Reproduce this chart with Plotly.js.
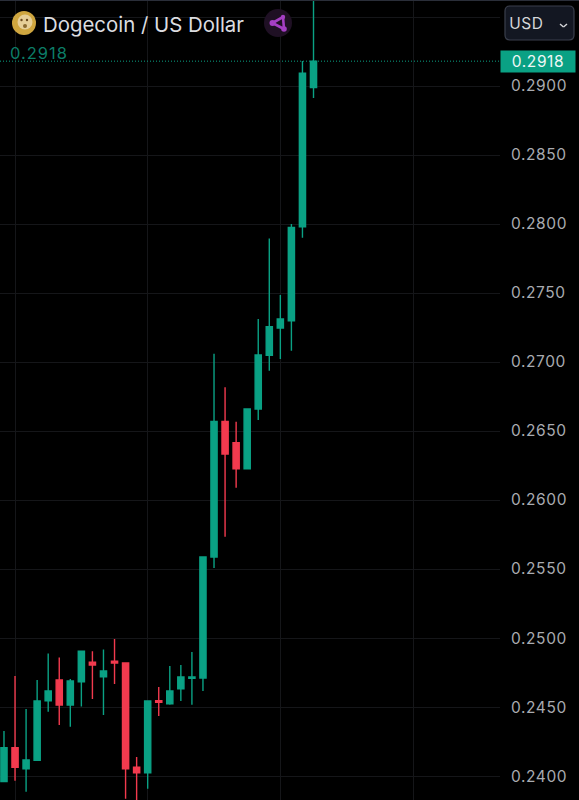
<!DOCTYPE html>
<html><head><meta charset="utf-8">
<script src="https://cdn.plot.ly/plotly-3.0.0.min.js"></script>
<style>html,body{margin:0;padding:0;background:#000}
.ytick text{letter-spacing:.6px}
.annotation[data-index="1"] text{letter-spacing:1px}
.annotation[data-index="2"] text{letter-spacing:.5px}
.annotation[data-index="3"] text{letter-spacing:.6px}
</style></head>
<body><div id="chart" style="width:579px;height:800px"></div>
<script>
const open_  = [.2396,.24205,.24053,.24114,.24546,.24696,.24515,.24684,.24826,.2472,.24833,.24819,.24065,.24024,.24546,.24524,.24633,.24708,.2471,.25587,.2657,.26415,.26227,.2666,.27049,.27246,.27299,.2798,.28988];
const high   = [.24326,.24725,.24486,.24696,.24889,.2486,.24703,.24904,.24904,.24918,.24993,.24819,.24138,.24544,.24645,.24797,.24804,.24899,.25587,.2706,.26817,.26568,.2666,.27312,.27896,.27486,.28,.29181,.299];
const low    = [.23955,.23966,.23886,.24114,.24466,.2437,.24357,.24505,.24558,.24442,.24667,.23836,.238,.23908,.24435,.24517,.24544,.24517,.24616,.25507,.25734,.26089,.26227,.2658,.26937,.27022,.27082,.27901,.28913];
const close_ = [.24205,.24063,.24116,.24544,.24616,.24515,.24689,.24904,.24804,.24761,.24819,.24053,.24024,.24544,.24534,.24616,.24718,.24718,.25587,.2657,.26333,.26227,.2666,.27051,.27256,.27312,.27976,.29092,.2918];
const index_ = open_.map((_, i) => i);
const priceTicks = [.24,.245,.25,.255,.26,.265,.27,.275,.28,.285,.29,.295];
const priceLabels = ['0.2400','0.2450','0.2500','0.2550','0.2600','0.2650','0.2700','0.2750','0.2800','0.2850','0.2900',''];
const timeTicks = [1,13,25,37];
const lastPrice = 0.2918;
const GREEN = '#0aa184', RED = '#f23a4e', FONT = 'Inter, Roboto, sans-serif';
const PW = 500, PH = 800;
const X = p => p / PW, Y = p => 1 - p / PH;
const pshape = o => Object.assign({xref:'paper', yref:'paper', layer:'above'}, o);
const circle = (cx, cy, r, fill) => pshape({type:'circle', x0:X(cx-r), x1:X(cx+r), y0:Y(cy+r), y1:Y(cy-r), fillcolor:fill, line:{width:0}});
const seg = (x0,y0,x1,y1,c,w) => pshape({type:'line', x0:X(x0), x1:X(x1), y0:Y(y0), y1:Y(y1), line:{color:c,width:w}});
const note = (text, px, py, size, color, anchor) => ({text, xref:'paper', yref:'paper', x:X(px), y:Y(py), xanchor:anchor||'left', yanchor:'middle', showarrow:false, font:{family:FONT,size,color}});
const box = (x0,y0,x1,y1,r) => `M${X(x0+r)},${Y(y0)} L${X(x1-r)},${Y(y0)} Q${X(x1)},${Y(y0)} ${X(x1)},${Y(y0+r)} L${X(x1)},${Y(y1-r)} Q${X(x1)},${Y(y1)} ${X(x1-r)},${Y(y1)} L${X(x0+r)},${Y(y1)} Q${X(x0)},${Y(y1)} ${X(x0)},${Y(y1-r)} L${X(x0)},${Y(y0+r)} Q${X(x0)},${Y(y0)} ${X(x0+r)},${Y(y0)} Z`;

const traces = [{
  type:'candlestick', x:index_, open:open_, high, low, close:close_,
  increasing:{line:{color:GREEN,width:1.4}, fillcolor:GREEN},
  decreasing:{line:{color:RED,width:1.4}, fillcolor:RED},
  whiskerwidth:0, hoverinfo:'skip'
}];
const layout = {
  width:579, height:800, autosize:false,
  margin:{l:0,r:79,t:0,b:0,pad:0},
  paper_bgcolor:'#000', plot_bgcolor:'#000', showlegend:false, boxgap:0.2,
  xaxis:{range:[-0.36,44.87], tickmode:'array', tickvals:timeTicks, showticklabels:false, ticks:'', showgrid:true, gridcolor:'#151619', gridwidth:1, zeroline:false, showline:false, rangeslider:{visible:false}, fixedrange:true},
  yaxis:{range:[.238267,.296232], side:'right', tickmode:'array', tickvals:priceTicks, ticktext:priceLabels, ticks:'', ticklabelstandoff:10, showgrid:true, gridcolor:'#151619', gridwidth:1, zeroline:false, showline:false, tickfont:{family:FONT,size:15.5,color:'#a9abb0'}, fixedrange:true},
  shapes:[
    seg(0,0.5,579,0.5,'#2a2e39',1),
    {type:'line', xref:'paper', yref:'y', x0:0, x1:1, y0:lastPrice, y1:lastPrice, line:{color:GREEN,width:1,dash:'1px,2px'}, layer:'above'},
    circle(24,23,12,'#cfa63f'), circle(25,22,7.5,'#e6cf98'), circle(21.5,20,1.2,'#6b4a1c'), circle(27,20,1.2,'#6b4a1c'), circle(25,26,2,'#8a6a30'),
    circle(278,23,14,'#1f1024'),
    seg(272.5,23,283,17,'#a53fc4',2.6), seg(283,17,284,29,'#a53fc4',2.6), seg(284,29,272.5,23,'#a53fc4',2.6),
    circle(272.5,23,3,'#a53fc4'), circle(283,17,2.2,'#a53fc4'), circle(284,29,2.8,'#a53fc4'),
    pshape({type:'path', path:box(505,6,574,40,5), fillcolor:'#131722', line:{color:'#3a3f4c',width:1.2}}),
    seg(560,24,563.5,27,'#d6d7da',1.4), seg(563.5,27,567,24,'#d6d7da',1.4)
  ],
  annotations:[
    note('Dogecoin / US Dollar',41,24,20.4,'#dcdde0'),
    note(lastPrice.toFixed(4),10.5,53,16.5,'#0c7d67'),
    note('USD',508,23.5,15.5,'#d6d7da'),
    {text:lastPrice.toFixed(4), xref:'paper', yref:'y', x:X(500), y:lastPrice, xanchor:'left', yanchor:'middle', showarrow:false, width:74, height:21, bgcolor:GREEN, align:'center', borderpad:0, font:{family:FONT,size:15.5,color:'#eef7f5'}}
  ]
};
Plotly.newPlot('chart', traces, layout, {displayModeBar:false, staticPlot:true});
</script></body></html>
